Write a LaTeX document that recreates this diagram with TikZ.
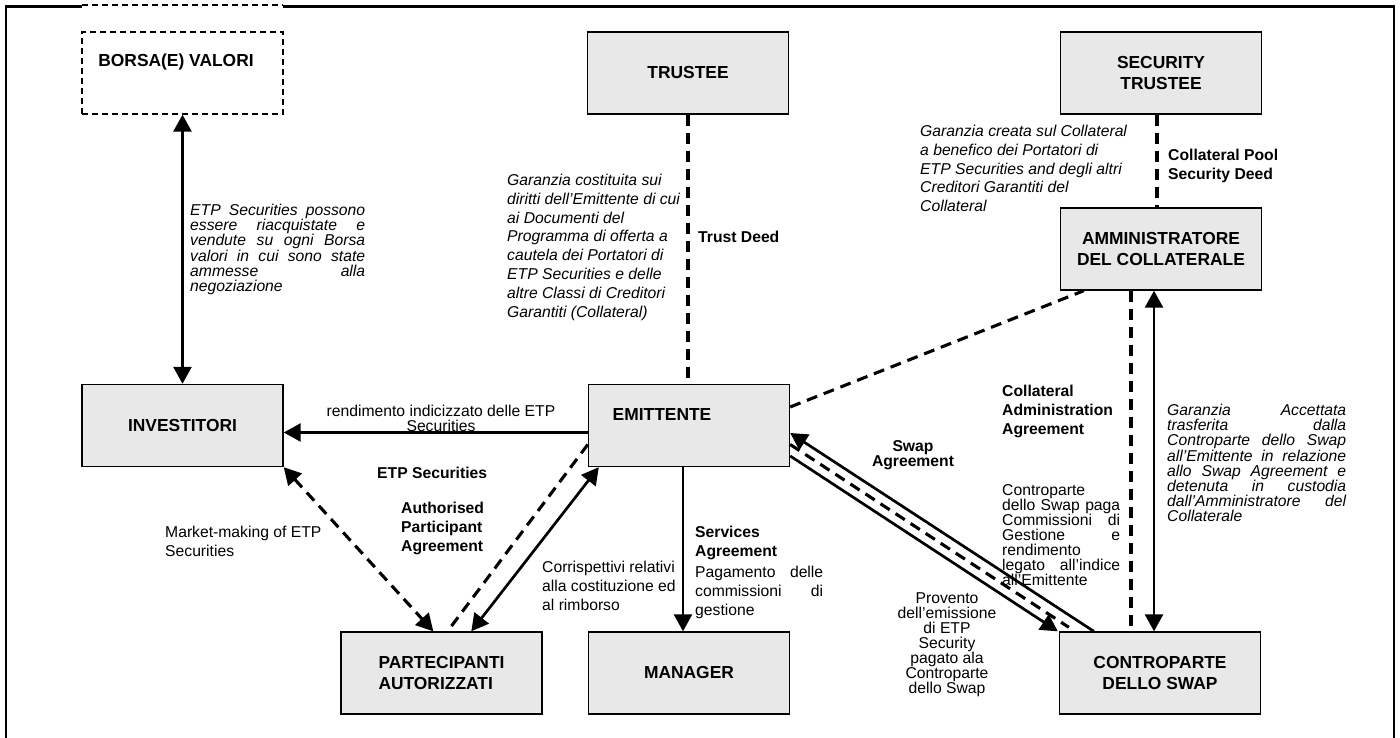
\documentclass[tikz,border=0pt]{standalone}
\usepackage{fontspec}
\setmainfont{Liberation Sans}
\usetikzlibrary{arrows.meta}
\definecolor{boxgray}{RGB}{232,232,232}
% tight leading in the notes, as in the original
\setlength{\lineskiplimit}{-20pt}

\begin{document}
\begin{tikzpicture}[x=1pt, y=-1pt,
  >={Triangle[length=17pt, width=18pt]},
  box/.style={draw, line width=1.4pt, fill=boxgray, minimum width=201pt, minimum height=82pt,
    inner sep=0pt, align=center, font=\fontsize{17.4}{21.5}\selectfont\bfseries},
  dbox/.style={draw, line width=1.3pt, dash pattern=on 6pt off 4pt, minimum width=201pt, minimum height=82pt},
  boxtext/.style={inner sep=0pt, font=\fontsize{17.4}{21.5}\selectfont\bfseries},
  lbl/.style={inner sep=0pt, align=left, font=\fontsize{15.7}{19}\selectfont},
  lbltight/.style={lbl, font=\fontsize{15.7}{15}\selectfont},
  lblbf/.style={lbl, font=\fontsize{15.7}{19}\selectfont\bfseries},
  lblit/.style={lbl, font=\fontsize{15.7}{18.8}\selectfont\itshape},
  lblittight/.style={lbl, font=\fontsize{15.7}{15.2}\selectfont\itshape},
  flow/.style={line width=2.7pt},
  link/.style={line width=3.1pt, dash pattern=on 11pt off 7pt}]
  \useasboundingbox (0,0) rectangle (1400,738);

  % outer frame, its top cut by the dashed piece over the exchange box
  \draw[line width=2.5pt] (82,6.5) -- (6,6.5) -- (6,760);
  \draw[line width=2.5pt] (283,6.5) -- (1394,6.5) -- (1394,760);
  \draw[line width=1.3pt, dash pattern=on 6pt off 4pt] (82,5) -- (283,5);

  % parties
  \node[dbox] (borsa) at (182.5,73) {};
  \node[boxtext] (borsatxt) at (176,62) {BORSA(E) VALORI};
  \node[box] (trustee) at (688,73) {TRUSTEE};
  \node[box] (sectr) at (1161,73) {SECURITY\\TRUSTEE};
  \node[box] (admin) at (1161,249) {AMMINISTRATORE\\DEL COLLATERALE};
  \node[box] (inv) at (182.5,425.5) {INVESTITORI};
  \node[box] (emit) at (689,425.5) {};
  \node[boxtext] (emittxt) at (662,415) {EMITTENTE};
  \node[box, align=left] (part) at (441.5,673) {PARTECIPANTI\\AUTORIZZATI};
  \node[box] (mgr) at (689,673) {MANAGER};
  \node[box] (swap) at (1160,673) {CONTROPARTE\\DELLO SWAP};

  % connectors
  \draw[flow, <->] (borsa) -- (inv);
  \draw[link] (trustee.south) -- (trustee.south |- emit.north);
  \draw[link] ([xshift=-4pt]sectr.south) -- ([xshift=-4pt]admin.north);
  \draw[flow, ->] ([yshift=-7pt]emit.west) -- ([yshift=-7pt]emit.west -| inv.east);
  \draw[link, <->] (inv.south east) -- ([xshift=93pt]part.north west);
  \draw[link] ([yshift=-19pt]emit.west) -- ([xshift=111pt, yshift=5pt]part.north west);
  \draw[flow, <->] ([xshift=131pt]part.north west) -- ([xshift=11pt]emit.south west);
  \draw[flow, ->] ([xshift=-6pt]emit.south) -- ([xshift=-6pt]mgr.north);
  \draw[link] ([yshift=18.5pt]emit.east) -- ([xshift=24pt]admin.south west);
  % swap legs: payments both ways and the agreement between them
  \draw[flow, ->] ([xshift=35pt]swap.north west) -- ([yshift=-7.5pt]emit.east);
  \draw[link] ([yshift=-19pt]emit.east) -- ([xshift=10pt, yshift=4pt]swap.north west);
  \draw[flow, ->] ([yshift=-30.5pt]emit.east) -- ([xshift=-1pt]swap.north west);
  \draw[link] ([xshift=-30pt]admin.south) -- ([xshift=-30pt]admin.south |- swap.north);
  \draw[flow, <->] ([xshift=-7pt]admin.south) -- ([xshift=-7pt]admin.south |- swap.north);

  % labels
  \node[lblittight, text width=175pt, anchor=north west] (lborsa) at (190,204)
    {ETP\hfill Securities\hfill possono\\essere\hfill riacquistate\hfill e\\vendute\hfill su\hfill ogni\hfill Borsa\\valori\hfill in\hfill cui\hfill sono\hfill state\\ammesse\hfill alla\\negoziazione};
  \node[lblit, anchor=north west] (ltrust) at (507,174)
    {Garanzia costituita sui\\diritti dell’Emittente di cui\\ai Documenti del\\Programma di offerta a\\cautela dei Portatori di\\ETP Securities e delle\\altre Classi di Creditori\\Garantiti (Collateral)};
  \node[lblbf, anchor=west] (ldeed) at (698,237) {Trust Deed};
  \node[lblit, anchor=north west] (lsec) at (920,125)
    {Garanzia creata sul Collateral\\a benefico dei Portatori di\\ETP Securities and degli altri\\Creditori Garantiti del\\Collateral};
  \node[lblbf, anchor=north west] (lpool) at (1168,149) {Collateral Pool\\Security Deed};
  \node[lbltight, align=center, anchor=north] (lrend) at (441,405) {rendimento indicizzato delle ETP\\Securities};
  \node[lblbf, anchor=west] (letp) at (377,473) {ETP Securities};
  \node[lblbf, anchor=north west] (lap) at (401,502) {Authorised\\Participant\\Agreement};
  \node[lbl, anchor=north west] (lmm) at (165,526) {Market-making of ETP\\Securities};
  \node[lbl, anchor=north west] (lcorr) at (542,561) {Corrispettivi relativi\\alla costituzione ed\\al rimborso};
  \node[lblbf, anchor=north west] (lserv) at (695,526) {Services\\Agreement};
  \node[lbl, text width=128pt, anchor=north west] (lpag) at (695,566)
    {Pagamento\hfill delle\\commissioni\hfill di\\gestione};
  \node[lblbf, font=\fontsize{15.7}{15}\selectfont\bfseries, align=center, anchor=north] (lswap) at (913,440) {Swap\\Agreement};
  \node[lblbf, anchor=north west] (lcaa) at (1002,385) {Collateral\\Administration\\Agreement};
  \node[lbltight, text width=118pt, anchor=north west] (lcontr) at (1002,484)
    {Controparte\\dello\hfill Swap\hfill paga\\Commissioni\hfill di\\Gestione\hfill e\\rendimento\\legato\hfill all’indice\\all’Emittente};
  \node[lbltight, align=center, anchor=north] (lprov) at (947,592)
    {Provento\\dell’emissione\\di ETP\\Security\\pagato ala\\Controparte\\dello Swap};
  \node[lblittight, text width=179pt, anchor=north west] (lgar) at (1167,404)
    {Garanzia\hfill Accettata\\trasferita\hfill dalla\\Controparte\hfill dello\hfill Swap\\all’Emittente\hfill in\hfill relazione\\allo\hfill Swap\hfill Agreement\hfill e\\detenuta\hfill in\hfill custodia\\dall’Amministratore\hfill del\\Collaterale};
\end{tikzpicture}
\end{document}
